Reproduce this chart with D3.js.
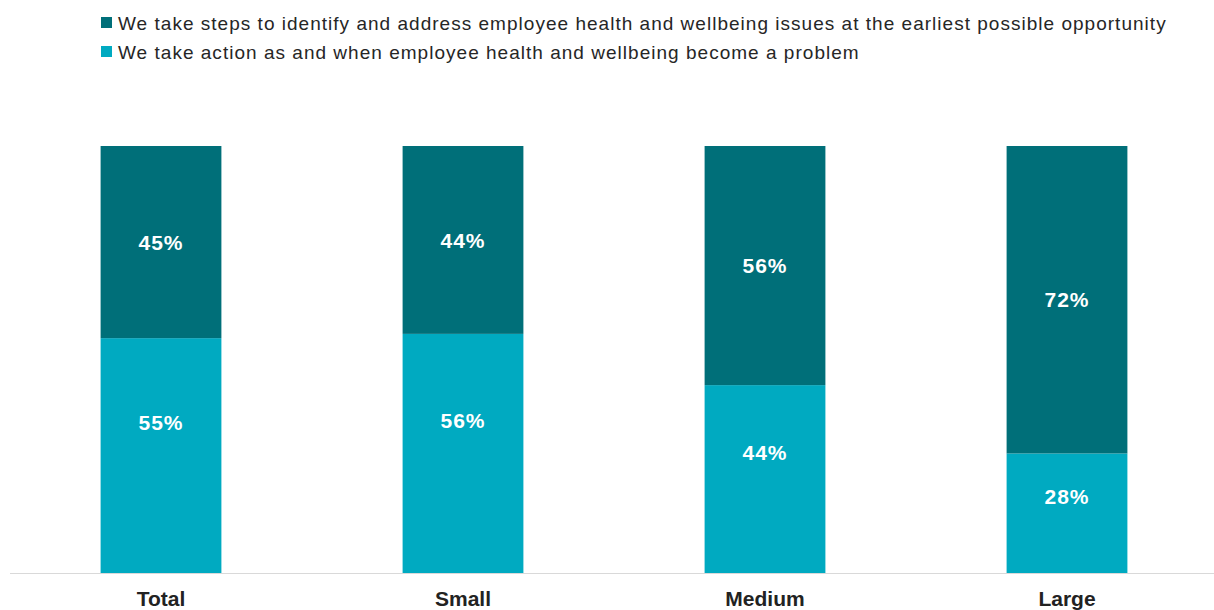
<!DOCTYPE html>
<html>
<head>
<meta charset="utf-8">
<script src="https://cdn.jsdelivr.net/npm/d3@7"></script>
<style>
  html, body { margin: 0; padding: 0; background: #ffffff; }
  svg { display: block; font-family: "Liberation Sans", Arial, sans-serif; }
</style>
</head>
<body>
<svg id="chart" width="1214" height="610"></svg>
<script>
// Company size groups and the share of each approach (%)
const categories = ["Total", "Small", "Medium", "Large"];
const earliestOpportunity = [45, 44, 56, 72];
const whenProblem = [55, 56, 44, 28];
const seriesNames = [
  "We take steps to identify and address employee health and wellbeing issues at the earliest possible opportunity",
  "We take action as and when employee health and wellbeing become a problem"
];
const colors = ["#006f79", "#00aac1"];

const svg = d3.select("#chart");
const W = 1214;

const x = d3.scaleBand()
  .domain(categories)
  .range([10, 1218])
  .paddingInner(0.6)
  .paddingOuter(0.3);

const y = d3.scaleLinear().domain([0, 100]).range([573, 146]);

// Stack: "as and when" at the bottom, "earliest" on top
const rows = categories.map((c, i) => ({ cat: c, low: whenProblem[i], high: earliestOpportunity[i] }));
const stack = d3.stack().keys(["low", "high"])(rows);
const fills = { low: colors[1], high: colors[0] };

const g = svg.append("g");
stack.forEach(layer => {
  g.selectAll(null)
    .data(layer)
    .enter()
    .append("rect")
    .attr("x", d => x(d.data.cat))
    .attr("width", x.bandwidth())
    .attr("y", d => y(d[1]))
    .attr("height", d => y(d[0]) - y(d[1]))
    .attr("fill", fills[layer.key]);
});

// Value labels
stack.forEach(layer => {
  const frac = layer.key === "high" ? 0.5 : 0.36;
  g.selectAll(null)
    .data(layer)
    .enter()
    .append("text")
    .attr("x", d => x(d.data.cat) + x.bandwidth() / 2)
    .attr("y", d => y(d[1]) + (y(d[0]) - y(d[1])) * frac)
    .attr("dy", "0.36em")
    .attr("text-anchor", "middle")
    .attr("fill", "#ffffff")
    .attr("font-weight", "bold")
    .attr("font-size", "21px")
    .style("letter-spacing", "1px")
    .text(d => (d[1] - d[0]) + "%");
});

// Category axis
const axis = d3.axisBottom(x).tickSize(0).tickPadding(0);
const ax = svg.append("g").attr("transform", "translate(0,573.5)").call(axis);
ax.select(".domain").remove();
ax.append("line")
  .attr("x1", 10).attr("x2", W).attr("y1", 0).attr("y2", 0)
  .attr("stroke", "#d9d9d9").attr("stroke-width", 1.2);
ax.selectAll(".tick text")
  .attr("y", 32.5)
  .attr("dy", 0)
  .attr("fill", "#222222")
  .attr("font-family", "'Liberation Sans', Arial, sans-serif")
  .attr("font-weight", "bold")
  .attr("font-size", "21px");

// Legend
const legend = svg.append("g");
seriesNames.forEach((name, i) => {
  const row = legend.append("g").attr("transform", `translate(101, ${29.5 + i * 29})`);
  row.append("rect")
    .attr("x", 0).attr("y", -12.5)
    .attr("width", 11).attr("height", 11)
    .attr("fill", colors[i]);
  row.append("text")
    .attr("x", 17).attr("y", 0)
    .attr("fill", "#262626")
    .attr("font-size", "19px")
    .style("letter-spacing", "1.02px")
    .text(name);
});
</script>
</body>
</html>
